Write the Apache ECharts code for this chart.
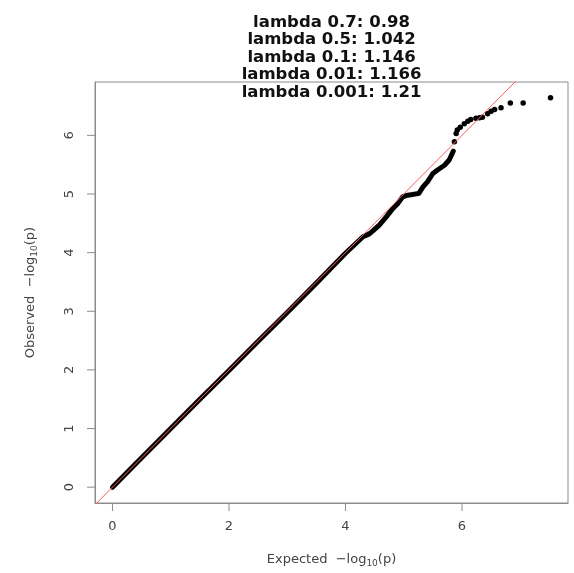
<!DOCTYPE html>
<html><head><meta charset="utf-8">
<script src="https://cdn.jsdelivr.net/npm/echarts@6/dist/echarts.min.js"></script>
<style>html,body{margin:0;padding:0;background:#fff}#c{width:574px;height:573px}</style>
</head><body><div id="c"></div>
<script>
// ---- data ----
const titleLines = ['lambda 0.7: 0.98', 'lambda 0.5: 1.042', 'lambda 0.1: 1.146', 'lambda 0.01: 1.166', 'lambda 0.001: 1.21'];
// dense body of the QQ plot (expected, observed)
const bodyExpected = [0.00, 0.50, 1.00, 1.50, 2.00, 2.50, 3.00, 3.50, 4.00, 4.30, 4.41, 4.47, 4.58, 4.70, 4.81, 4.90, 4.98, 5.07, 5.15, 5.26, 5.33, 5.41, 5.50, 5.58, 5.70, 5.78, 5.85];
const bodyObserved = [0.00, 0.50, 1.00, 1.50, 1.99, 2.49, 2.98, 3.48, 3.99, 4.27, 4.32, 4.37, 4.47, 4.61, 4.75, 4.84, 4.95, 4.98, 4.99, 5.01, 5.12, 5.21, 5.35, 5.41, 5.49, 5.58, 5.73];
// individual top points
const tailExpected = [5.87, 5.90, 5.92, 5.97, 6.04, 6.10, 6.15, 6.24, 6.30, 6.35, 6.44, 6.50, 6.56, 6.67, 6.83, 7.05, 7.52];
const tailObserved = [5.89, 6.03, 6.09, 6.14, 6.20, 6.24, 6.27, 6.29, 6.30, 6.31, 6.37, 6.41, 6.44, 6.47, 6.55, 6.55, 6.64];
const refLineEnds = [-0.30, 7.82];   // y = x reference line
const xTicks = [0, 2, 4, 6];
const yTicks = [0, 1, 2, 3, 4, 5, 6];
const xRange = [-0.30, 7.82];
const yRange = [-0.27, 6.91];

const FONT = 'DejaVu Sans';
const GREY = '#8c8c8c';
const chart = echarts.init(document.getElementById('c'), null, {renderer: 'canvas'});
const nameRich = {
  a: {fontFamily: FONT, fontSize: 13, color: '#444'},
  s: {fontFamily: FONT, fontSize: 9, color: '#444', padding: [8, 0, 0, 0], verticalAlign: 'bottom'}
};
chart.setOption({
  animation: false,
  backgroundColor: '#fff',
  graphic: [{
    type: 'text', x: 331.5, y: 13.5, z: 10,
    style: {
      text: titleLines.join('\n'), align: 'center', verticalAlign: 'top',
      fontFamily: FONT, fontWeight: 'bold', fontSize: 16.5, lineHeight: 17.5, fill: '#111'
    }
  }],
  grid: {left: 95, right: 6, top: 82, bottom: 69, show: true, borderColor: GREY, borderWidth: 1},
  xAxis: {
    type: 'value', min: xRange[0], max: xRange[1],
    axisLine: {show: true, onZero: false, lineStyle: {color: GREY, width: 1}}, splitLine: {show: false},
    axisTick: {show: false},
    axisLabel: {customValues: xTicks, fontFamily: FONT, fontSize: 13, color: '#444', margin: 17},
    name: '{a|Expected  \u2212log}{s|10}{a|(p)}',
    nameLocation: 'middle', nameGap: 48,
    nameTextStyle: {rich: nameRich}
  },
  yAxis: {
    type: 'value', min: yRange[0], max: yRange[1],
    axisLine: {show: true, onZero: false, lineStyle: {color: GREY, width: 1}}, splitLine: {show: false},
    axisTick: {show: false},
    axisLabel: {customValues: yTicks, fontFamily: FONT, fontSize: 13, color: '#444', margin: 19, rotate: 90},
    name: '{a|Observed  \u2212log}{s|10}{a|(p)}',
    nameLocation: 'middle', nameGap: 56, nameRotate: 90,
    nameTextStyle: {rich: nameRich}
  },
  series: [
    {
      // tick marks on the x axis, placed through the axis scales
      type: 'scatter', z: 1, silent: true, clip: false,
      symbol: 'rect', symbolSize: [1, 8], symbolOffset: [0, 4],
      data: xTicks.map(t => [t, yRange[0]]),
      itemStyle: {color: GREY, opacity: 1}
    },
    {
      // tick marks on the y axis
      type: 'scatter', z: 1, silent: true, clip: false,
      symbol: 'rect', symbolSize: [8, 1], symbolOffset: [-4, 0],
      data: yTicks.map(t => [xRange[0], t]),
      itemStyle: {color: GREY, opacity: 1}
    },
    {
      type: 'line', z: 2, symbol: 'none', silent: true,
      data: bodyExpected.map((x, i) => [x, bodyObserved[i]]),
      lineStyle: {color: '#000', width: 5, cap: 'round', join: 'round'}
    },
    {
      type: 'scatter', z: 3, symbol: 'circle', symbolSize: 5.5, silent: true,
      data: tailExpected.map((x, i) => [x, tailObserved[i]]),
      itemStyle: {color: '#000', opacity: 1}
    },
    {
      type: 'line', z: 4, symbol: 'none', silent: true, clip: true,
      data: refLineEnds.map(v => [v, v]),
      lineStyle: {color: '#ff5a5a', width: 1}
    }
  ]
});
</script></body></html>
